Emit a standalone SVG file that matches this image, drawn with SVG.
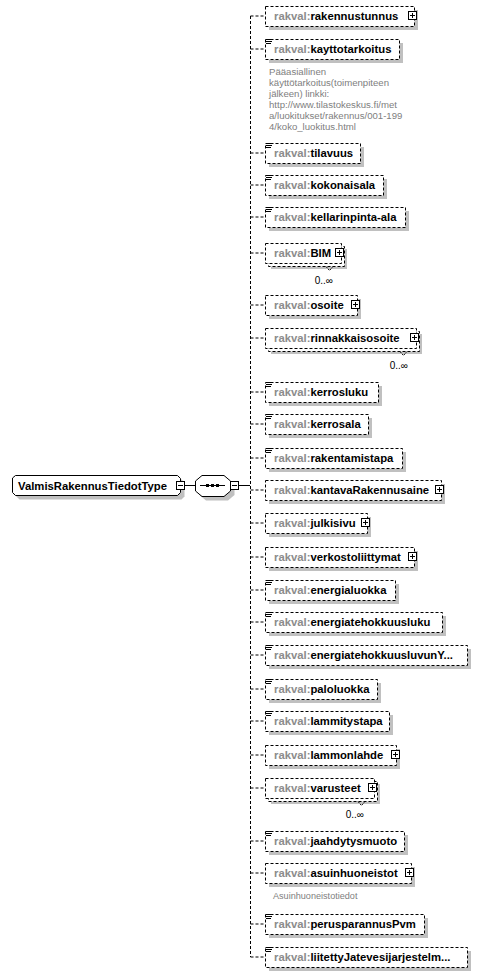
<svg xmlns="http://www.w3.org/2000/svg" width="480" height="976" viewBox="0 0 480 976">
<style>
.sh{fill:#c0c0c0;stroke:none}
.box{fill:#fff;stroke:#000;stroke-width:1;stroke-dasharray:3,2}
.con{fill:none;stroke:#000;stroke-width:1;stroke-dasharray:3,2}
.sol{fill:none;stroke:#000;stroke-width:1}
.lbl{font-family:"Liberation Sans",Arial,sans-serif;font-size:11.3px;font-weight:bold;fill:#000}
.pre{fill:#8c8c8c}
.ann{font-family:"Liberation Sans",Arial,sans-serif;font-size:9.6px;fill:#808080}
.ann2{font-family:"Liberation Sans",Arial,sans-serif;font-size:9.1px;fill:#808080}
.occ{font-family:"Liberation Sans",Arial,sans-serif;font-size:10px;fill:#000;text-anchor:end}
.notch{fill:none;stroke:#000;stroke-width:1;stroke-dasharray:2,1}
</style>
<defs>
<g id="plus"><rect x="0.5" y="0.5" width="8" height="8" fill="#fff" stroke="#000"/><path d="M2 4.5H7M4.5 2V7" stroke="#000"/></g>
<g id="minus"><rect x="0.5" y="0.5" width="8" height="8" fill="#fff" stroke="#000"/><path d="M2 4.5H7" stroke="#000"/></g>
<g id="doc"><path d="M1 1.5H7M1 3.5H7M1 5.5H6" stroke="#000"/></g>
</defs>

<g id="connectors">
<path class="con" d="M250.5 16V957"/>
<path class="con" d="M250.5 16H265M250.5 49H265M250.5 153H265M250.5 185H265M250.5 217H265M250.5 253H265M250.5 305H265M250.5 338H265M250.5 392H265M250.5 424H265M250.5 458H265M250.5 490H265M250.5 523H265M250.5 557H265M250.5 590H265M250.5 622H265M250.5 655H265M250.5 689H265M250.5 721H265M250.5 755H265M250.5 788H265M250.5 841H265M250.5 873H265M250.5 924H265M250.5 957H265"/>
<path class="sol" d="M185 485.5H195M239 485.5H250"/>
</g>

<g id="type-ValmisRakennusTiedotType">
<path class="sh" d="M16.5 482L19.5 479.5H181.5L184.5 482.5V496.5L181.5 499.5H19.5L16.5 496.5Z"/>
<path fill="#fff" stroke="#000" d="M12.5 478L15.5 475.5H177.5L180.5 478.5V492.5L177.5 495.5H15.5L12.5 492.5Z"/>
<text class="lbl" x="18" y="489.5">ValmisRakennusTiedotType</text>
<use href="#minus" x="176" y="481"/>
</g>

<g id="sequence">
<polygon class="sh" points="206,479.5 228,479.5 234.5,485 234.5,495 228,500.5 206,500.5 199.5,495 199.5,485"/>
<polygon fill="#fff" stroke="#000" points="202,475.5 224,475.5 230.5,481 230.5,491 224,496.5 202,496.5 195.5,491 195.5,481"/>
<path class="sol" d="M200 485.5H225"/>
<rect x="206" y="484" width="3" height="3" fill="#000"/>
<rect x="211" y="484" width="3" height="3" fill="#000"/>
<rect x="216" y="484" width="3" height="3" fill="#000"/>
<use href="#minus" x="230" y="481"/>
</g>

<g id="e-rakennustunnus">
<rect class="sh" x="269" y="10" width="149" height="20"/>
<rect class="box" x="265.5" y="6.5" width="149" height="20"/>
<text class="lbl" x="274" y="20"><tspan class="pre">rakval:</tspan>rakennustunnus</text>
<use href="#plus" x="408" y="11"/>
</g>

<g id="e-kayttotarkoitus">
<rect class="sh" x="269" y="43" width="134" height="20"/>
<rect class="box" x="265.5" y="39.5" width="134" height="20"/>
<use href="#doc" x="265" y="38"/>
<text class="lbl" x="274" y="53"><tspan class="pre">rakval:</tspan>kayttotarkoitus</text>
<text class="ann" x="269" y="74.5">Pääasiallinen</text>
<text class="ann" x="269" y="85.5">käyttötarkoitus(toimenpiteen</text>
<text class="ann" x="269" y="96.5">jälkeen) linkki:</text>
<text class="ann" x="269" y="107.5">http://www.tilastokeskus.fi/met</text>
<text class="ann" x="269" y="118.5">a/luokitukset/rakennus/001-199</text>
<text class="ann" x="269" y="129.5">4/koko_luokitus.html</text>
</g>

<g id="e-tilavuus">
<rect class="sh" x="269" y="147" width="95" height="20"/>
<rect class="box" x="265.5" y="143.5" width="95" height="20"/>
<use href="#doc" x="265" y="142"/>
<text class="lbl" x="274" y="157"><tspan class="pre">rakval:</tspan>tilavuus</text>
</g>

<g id="e-kokonaisala">
<rect class="sh" x="269" y="179" width="118" height="20"/>
<rect class="box" x="265.5" y="175.5" width="118" height="20"/>
<use href="#doc" x="265" y="174"/>
<text class="lbl" x="274" y="189"><tspan class="pre">rakval:</tspan>kokonaisala</text>
</g>

<g id="e-kellarinpinta-ala">
<rect class="sh" x="269" y="211" width="140" height="20"/>
<rect class="box" x="265.5" y="207.5" width="140" height="20"/>
<use href="#doc" x="265" y="206"/>
<text class="lbl" x="274" y="221"><tspan class="pre">rakval:</tspan>kellarinpinta-ala</text>
</g>

<g id="e-BIM">
<rect class="sh" x="271" y="249" width="76" height="20"/>
<rect class="box" x="268.5" y="246.5" width="76" height="20"/>
<rect class="box" x="265.5" y="243.5" width="76" height="20"/>
<text class="lbl" x="274" y="257"><tspan class="pre">rakval:</tspan>BIM</text>
<use href="#plus" x="335" y="248"/>
<polyline class="notch" points="326,266.5 329.5,270.5 333,266.5"/>
<text class="occ" x="333" y="284">0..∞</text>
</g>

<g id="e-osoite">
<rect class="sh" x="269" y="299" width="92" height="20"/>
<rect class="box" x="265.5" y="295.5" width="92" height="20"/>
<text class="lbl" x="274" y="309"><tspan class="pre">rakval:</tspan>osoite</text>
<use href="#plus" x="351" y="300"/>
</g>

<g id="e-rinnakkaisosoite">
<rect class="sh" x="271" y="334" width="151" height="20"/>
<rect class="box" x="268.5" y="331.5" width="151" height="20"/>
<rect class="box" x="265.5" y="328.5" width="151" height="20"/>
<text class="lbl" x="274" y="342"><tspan class="pre">rakval:</tspan>rinnakkaisosoite</text>
<use href="#plus" x="410" y="333"/>
<polyline class="notch" points="400,351.5 403.5,355.5 407,351.5"/>
<text class="occ" x="408" y="369">0..∞</text>
</g>

<g id="e-kerrosluku">
<rect class="sh" x="269" y="386" width="113" height="20"/>
<rect class="box" x="265.5" y="382.5" width="113" height="20"/>
<use href="#doc" x="265" y="381"/>
<text class="lbl" x="274" y="396"><tspan class="pre">rakval:</tspan>kerrosluku</text>
</g>

<g id="e-kerrosala">
<rect class="sh" x="269" y="418" width="103" height="20"/>
<rect class="box" x="265.5" y="414.5" width="103" height="20"/>
<use href="#doc" x="265" y="413"/>
<text class="lbl" x="274" y="428"><tspan class="pre">rakval:</tspan>kerrosala</text>
</g>

<g id="e-rakentamistapa">
<rect class="sh" x="269" y="452" width="137" height="20"/>
<rect class="box" x="265.5" y="448.5" width="137" height="20"/>
<use href="#doc" x="265" y="447"/>
<text class="lbl" x="274" y="462"><tspan class="pre">rakval:</tspan>rakentamistapa</text>
</g>

<g id="e-kantavaRakennusaine">
<rect class="sh" x="269" y="484" width="176" height="20"/>
<rect class="box" x="265.5" y="480.5" width="176" height="20"/>
<text class="lbl" x="274" y="494"><tspan class="pre">rakval:</tspan>kantavaRakennusaine</text>
<use href="#plus" x="435" y="485"/>
</g>

<g id="e-julkisivu">
<rect class="sh" x="269" y="517" width="102" height="20"/>
<rect class="box" x="265.5" y="513.5" width="102" height="20"/>
<text class="lbl" x="274" y="527"><tspan class="pre">rakval:</tspan>julkisivu</text>
<use href="#plus" x="361" y="518"/>
</g>

<g id="e-verkostoliittymat">
<rect class="sh" x="269" y="551" width="149" height="20"/>
<rect class="box" x="265.5" y="547.5" width="149" height="20"/>
<text class="lbl" x="274" y="561"><tspan class="pre">rakval:</tspan>verkostoliittymat</text>
<use href="#plus" x="408" y="552"/>
</g>

<g id="e-energialuokka">
<rect class="sh" x="269" y="584" width="130" height="20"/>
<rect class="box" x="265.5" y="580.5" width="130" height="20"/>
<use href="#doc" x="265" y="579"/>
<text class="lbl" x="274" y="594"><tspan class="pre">rakval:</tspan>energialuokka</text>
</g>

<g id="e-energiatehokkuusluku">
<rect class="sh" x="269" y="616" width="177" height="20"/>
<rect class="box" x="265.5" y="612.5" width="177" height="20"/>
<use href="#doc" x="265" y="611"/>
<text class="lbl" x="274" y="626"><tspan class="pre">rakval:</tspan>energiatehokkuusluku</text>
</g>

<g id="e-energiatehokkuusluvunY">
<rect class="sh" x="269" y="649" width="202" height="20"/>
<rect class="box" x="265.5" y="645.5" width="202" height="20"/>
<use href="#doc" x="265" y="644"/>
<text class="lbl" x="274" y="659"><tspan class="pre">rakval:</tspan>energiatehokkuusluvunY...</text>
</g>

<g id="e-paloluokka">
<rect class="sh" x="269" y="683" width="112" height="20"/>
<rect class="box" x="265.5" y="679.5" width="112" height="20"/>
<use href="#doc" x="265" y="678"/>
<text class="lbl" x="274" y="693"><tspan class="pre">rakval:</tspan>paloluokka</text>
</g>

<g id="e-lammitystapa">
<rect class="sh" x="269" y="715" width="124" height="20"/>
<rect class="box" x="265.5" y="711.5" width="124" height="20"/>
<use href="#doc" x="265" y="710"/>
<text class="lbl" x="274" y="725"><tspan class="pre">rakval:</tspan>lammitystapa</text>
</g>

<g id="e-lammonlahde">
<rect class="sh" x="269" y="749" width="131" height="20"/>
<rect class="box" x="265.5" y="745.5" width="131" height="20"/>
<text class="lbl" x="274" y="759"><tspan class="pre">rakval:</tspan>lammonlahde</text>
<use href="#plus" x="391" y="750"/>
</g>

<g id="e-varusteet">
<rect class="sh" x="271" y="784" width="109" height="20"/>
<rect class="box" x="268.5" y="781.5" width="109" height="20"/>
<rect class="box" x="265.5" y="778.5" width="109" height="20"/>
<text class="lbl" x="274" y="792"><tspan class="pre">rakval:</tspan>varusteet</text>
<use href="#plus" x="368" y="783"/>
<polyline class="notch" points="358,801.5 361.5,805.5 365,801.5"/>
<text class="occ" x="364" y="818">0..∞</text>
</g>

<g id="e-jaahdytysmuoto">
<rect class="sh" x="269" y="835" width="139" height="20"/>
<rect class="box" x="265.5" y="831.5" width="139" height="20"/>
<use href="#doc" x="265" y="830"/>
<text class="lbl" x="274" y="845"><tspan class="pre">rakval:</tspan>jaahdytysmuoto</text>
</g>

<g id="e-asuinhuoneistot">
<rect class="sh" x="269" y="867" width="146" height="20"/>
<rect class="box" x="265.5" y="863.5" width="146" height="20"/>
<text class="lbl" x="274" y="877"><tspan class="pre">rakval:</tspan>asuinhuoneistot</text>
<use href="#plus" x="405" y="868"/>
<text class="ann2" x="273" y="899">Asuinhuoneistotiedot</text>
</g>

<g id="e-perusparannusPvm">
<rect class="sh" x="269" y="918" width="159" height="20"/>
<rect class="box" x="265.5" y="914.5" width="159" height="20"/>
<use href="#doc" x="265" y="913"/>
<text class="lbl" x="274" y="928"><tspan class="pre">rakval:</tspan>perusparannusPvm</text>
</g>

<g id="e-liitettyJatevesijarjestelma">
<rect class="sh" x="269" y="951" width="202" height="20"/>
<rect class="box" x="265.5" y="947.5" width="202" height="20"/>
<use href="#doc" x="265" y="946"/>
<text class="lbl" x="274" y="961"><tspan class="pre">rakval:</tspan>liitettyJatevesijarjestelm...</text>
</g>
</svg>
